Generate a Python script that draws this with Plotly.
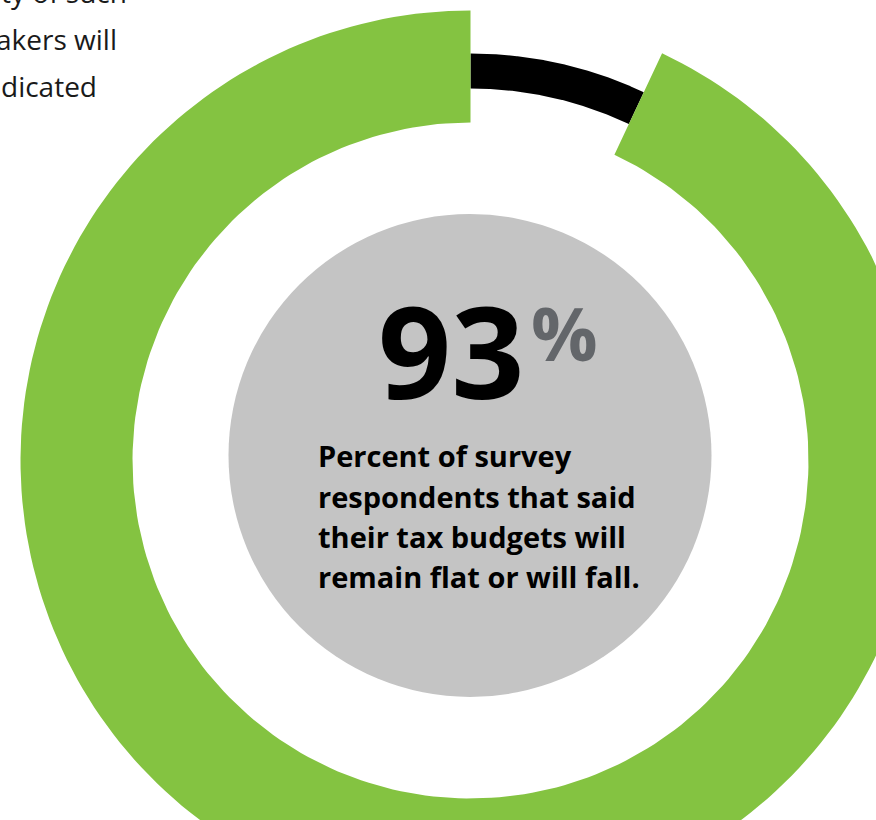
import numpy as np
import plotly.graph_objects as go

# Survey result shown in the ring
labels = ["Flat or fall", "Rise"]
values = [93, 7]
headline = "93"
headline_unit = "%"
caption_lines = [
    "Percent of survey",
    "respondents that said",
    "their tax budgets will",
    "remain flat or will fall.",
]
side_text_lines = ["ty of such", "akers will", "dicated"]

W, H = 876, 820
CX, CY = 470.5, 460.5
GREEN = "#84C341"
BLACK = "#000000"
GRAY = "#C4C4C4"
PCT_GRAY = "#63666A"


def arc_band(r_in, r_out, a0, a1, n=240):
    """Closed polygon of an annular sector; angles in degrees clockwise from 12 o'clock."""
    t = np.radians(np.linspace(a0, a1, n))
    xo = CX + r_out * np.sin(t)
    yo = CY - r_out * np.cos(t)
    xi = CX + r_in * np.sin(t[::-1])
    yi = CY - r_in * np.cos(t[::-1])
    return np.concatenate([xo, xi, xo[:1]]), np.concatenate([yo, yi, yo[:1]])


total = float(sum(values))
span_main = 360.0 * values[0] / total
span_rest = 360.0 * values[1] / total

fig = go.Figure()

# thin dark arc for the remaining share, starting at 12 o'clock
bx, by = arc_band(372, 407, 0, span_rest)
fig.add_trace(go.Scatter(x=bx, y=by, fill="toself", fillcolor=BLACK, mode="lines",
                         line=dict(width=0), hoverinfo="skip", name=labels[1]))

# wide green band for the main share
gx, gy = arc_band(338, 450, span_rest, span_rest + span_main)
fig.add_trace(go.Scatter(x=gx, y=gy, fill="toself", fillcolor=GREEN, mode="lines",
                         line=dict(width=0), hoverinfo="skip", name=labels[0]))

# gray disc in the middle
fig.add_shape(type="circle", xref="x", yref="y", x0=228.5, x1=711.5, y0=214, y1=697,
              fillcolor=GRAY, line=dict(width=0), layer="below")


def px(xp):
    return xp / W


def py(yp):
    return 1 - yp / H


ann = []
ann.append(dict(text=headline, x=px(526), y=py(350), xanchor="right", yanchor="middle",
                font=dict(family="Open Sans", size=128, color=BLACK, weight="bold")))
ann.append(dict(text=headline_unit, x=px(529), y=py(332), xanchor="left", yanchor="middle",
                font=dict(family="Open Sans", size=74, color=PCT_GRAY, weight="bold")))

for i, line in enumerate(caption_lines):
    base = 467 + i * 40.3
    ann.append(dict(text=line, x=px(316), y=py(base - 11.2), xanchor="left", yanchor="middle",
                    font=dict(family="Open Sans", size=29, color=BLACK, weight="bold")))

side_right = [129, 119, 99]
for i, line in enumerate(side_text_lines):
    base = 3 + i * 47
    ann.append(dict(text=line, x=px(side_right[i]), y=py(base - 11), xanchor="right",
                    yanchor="middle",
                    font=dict(family="Open Sans", size=28, color="#1A1A1A")))

for a in ann:
    a.update(xref="paper", yref="paper", showarrow=False)

fig.update_layout(
    width=W, height=H, autosize=False,
    margin=dict(l=0, r=0, t=0, b=0),
    paper_bgcolor="white", plot_bgcolor="white",
    showlegend=False,
    xaxis=dict(range=[0, W], visible=False, fixedrange=True),
    yaxis=dict(range=[H, 0], visible=False, fixedrange=True),
    annotations=ann,
)

fig.write_html("out.html", config={"displayModeBar": False})
